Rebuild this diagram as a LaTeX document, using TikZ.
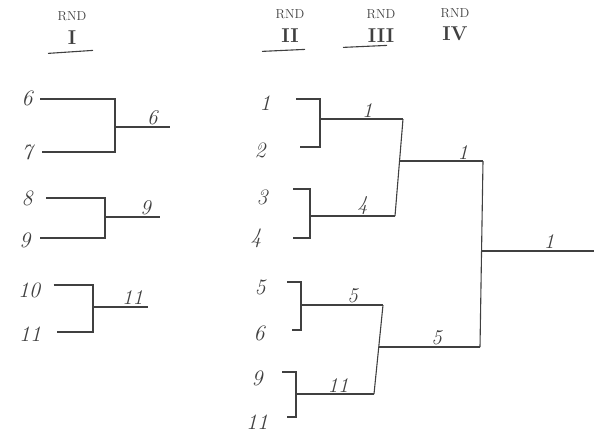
\documentclass[tikz,border=0pt]{standalone}
\usepackage{fontspec}
\usepackage{tikz}
\usetikzlibrary{positioning,calc}
\definecolor{pencil}{HTML}{404040}

\begin{document}
\begin{tikzpicture}[x=1pt,y=-1pt,
  seed/.style={font=\fontsize{22}{22}\selectfont\itshape, text=pencil},
  win/.style={font=\fontsize{21}{21}\selectfont\itshape, text=pencil, above=-2pt},
  rnd/.style={font=\fontsize{13}{13}\selectfont, text=pencil},
  roman/.style={font=\fontsize{20}{20}\selectfont\bfseries, text=pencil},
  line/.style={draw=pencil, line width=1.1pt},
  heavy/.style={draw=pencil, line width=1.7pt}]
  \useasboundingbox (0,0) rectangle (594,436);

  % round headers
  \node[rnd] (h1) at (72,16) {RND};
  \node[roman] (n1) at (72,38) {I};
  \node[rnd] (h2) at (290,14) {RND};
  \node[roman] (n2) at (290,36) {II};
  \node[rnd] (h3) at (381,14) {RND};
  \node[roman] (n3) at (381,36) {III};
  \node[rnd] (h4) at (455,13) {RND};
  \node[roman] (n4) at (455,34) {IV};
  \draw[line] ($(n1.south)+(-24,5)$) -- ($(n1.south)+(21,2)$);
  \draw[line] ($(n2.south)+(-28,5)$) -- ($(n2.south)+(15,3)$);
  \draw[line] ($(n3.south)+(-38,1)$) -- ($(n3.south)+(6,-1)$);

  % round I
  \node[seed] (p6) at (27,98) {6};
  \node[seed] (p7) at (27,152) {7};
  \node[seed] (p8) at (27,198) {8};
  \node[seed] (p9) at (25,240) {9};
  \node[seed] (p10) at (29,290) {10};
  \node[seed] (p11) at (30,334) {11};
  \coordinate (j6) at (115,127);  \coordinate (o6) at (170,127);
  \coordinate (j9) at (105,217);  \coordinate (o9) at (160,217);
  \coordinate (j11) at (93,307);  \coordinate (o11) at (148,307);
  \draw[line] ($(p6.east)+(4,1)$) -| (j6) |- ($(p7.east)+(6,0)$);
  \draw[line] ($(p8.east)+(10,0)$) -| (j9) |- ($(p9.east)+(6,-2)$);
  \draw[line] ($(p10.east)+(10,-5)$) -| (j11) |- ($(p11.east)+(12,-2)$);
  \draw[line] (j6) -- (o6) node[win, pos=0.68] (w6) {6};
  \draw[line] (j9) -- (o9) node[win, pos=0.74] (w9) {9};
  \draw[heavy] (j11) -- (o11) node[win, pos=0.72] (w11) {11};

  % round II
  \node[seed] (q1) at (265,103) {1};
  \node[seed] (q2) at (260,150) {2};
  \node[seed] (q3) at (262,197) {3};
  \node[seed] (q4) at (256,238) {4};
  \node[seed] (q5) at (260,287) {5};
  \node[seed] (q6) at (259,333) {6};
  \node[seed] (q9) at (257,378) {9};
  \node[seed] (q11) at (257,422) {11};
  \coordinate (k1) at (320,119);  \coordinate (m1) at (403,119);
  \coordinate (k4) at (310,216);  \coordinate (m4) at (395,216);
  \coordinate (k5) at (301,305);  \coordinate (m5) at (383,305);
  \coordinate (k11) at (296,394); \coordinate (m11) at (374,394);
  \draw[line] ($(q1.east)+(22,-4)$) -| (k1) |- ($(q2.east)+(31,-3)$);
  \draw[line] ($(q3.east)+(22,-8)$) -| (k4) |- ($(q4.east)+(28,0)$);
  \draw[line] ($(q5.east)+(18,-5)$) -| (k5) |- ($(q6.east)+(24,-3)$);
  \draw[line] ($(q9.east)+(16,-6)$) -| (k11) |- ($(q11.east)+(15,-5)$);
  \draw[line] (k1) -- (m1) node[win, pos=0.57] (v1) {1};
  \draw[line] (k4) -- (m4) node[win, pos=0.62] (v4) {4};
  \draw[line] (k5) -- (m5) node[win, pos=0.63] (v5) {5};
  \draw[line] (k11) -- (m11) node[win, pos=0.54] (v11) {11};

  % round III
  \coordinate (r1) at (399,161);  \coordinate (s1) at (483,161);
  \coordinate (r5) at (379,347);  \coordinate (s5) at (480,347);
  \draw[line] (m1) -- (m4);
  \draw[line] (m5) -- (m11);
  \draw[line] (r1) -- (s1) node[win, pos=0.76] (u1) {1};
  \draw[line] (r5) -- (s5) node[win, pos=0.57] (u5) {5};

  % round IV
  \coordinate (t1) at (482,251);  \coordinate (f1) at (594,251);
  \draw[line] (s1) -- (s5);
  \draw[heavy] (t1) -- (f1) node[win, pos=0.6] (z1) {1};
\end{tikzpicture}
\end{document}
